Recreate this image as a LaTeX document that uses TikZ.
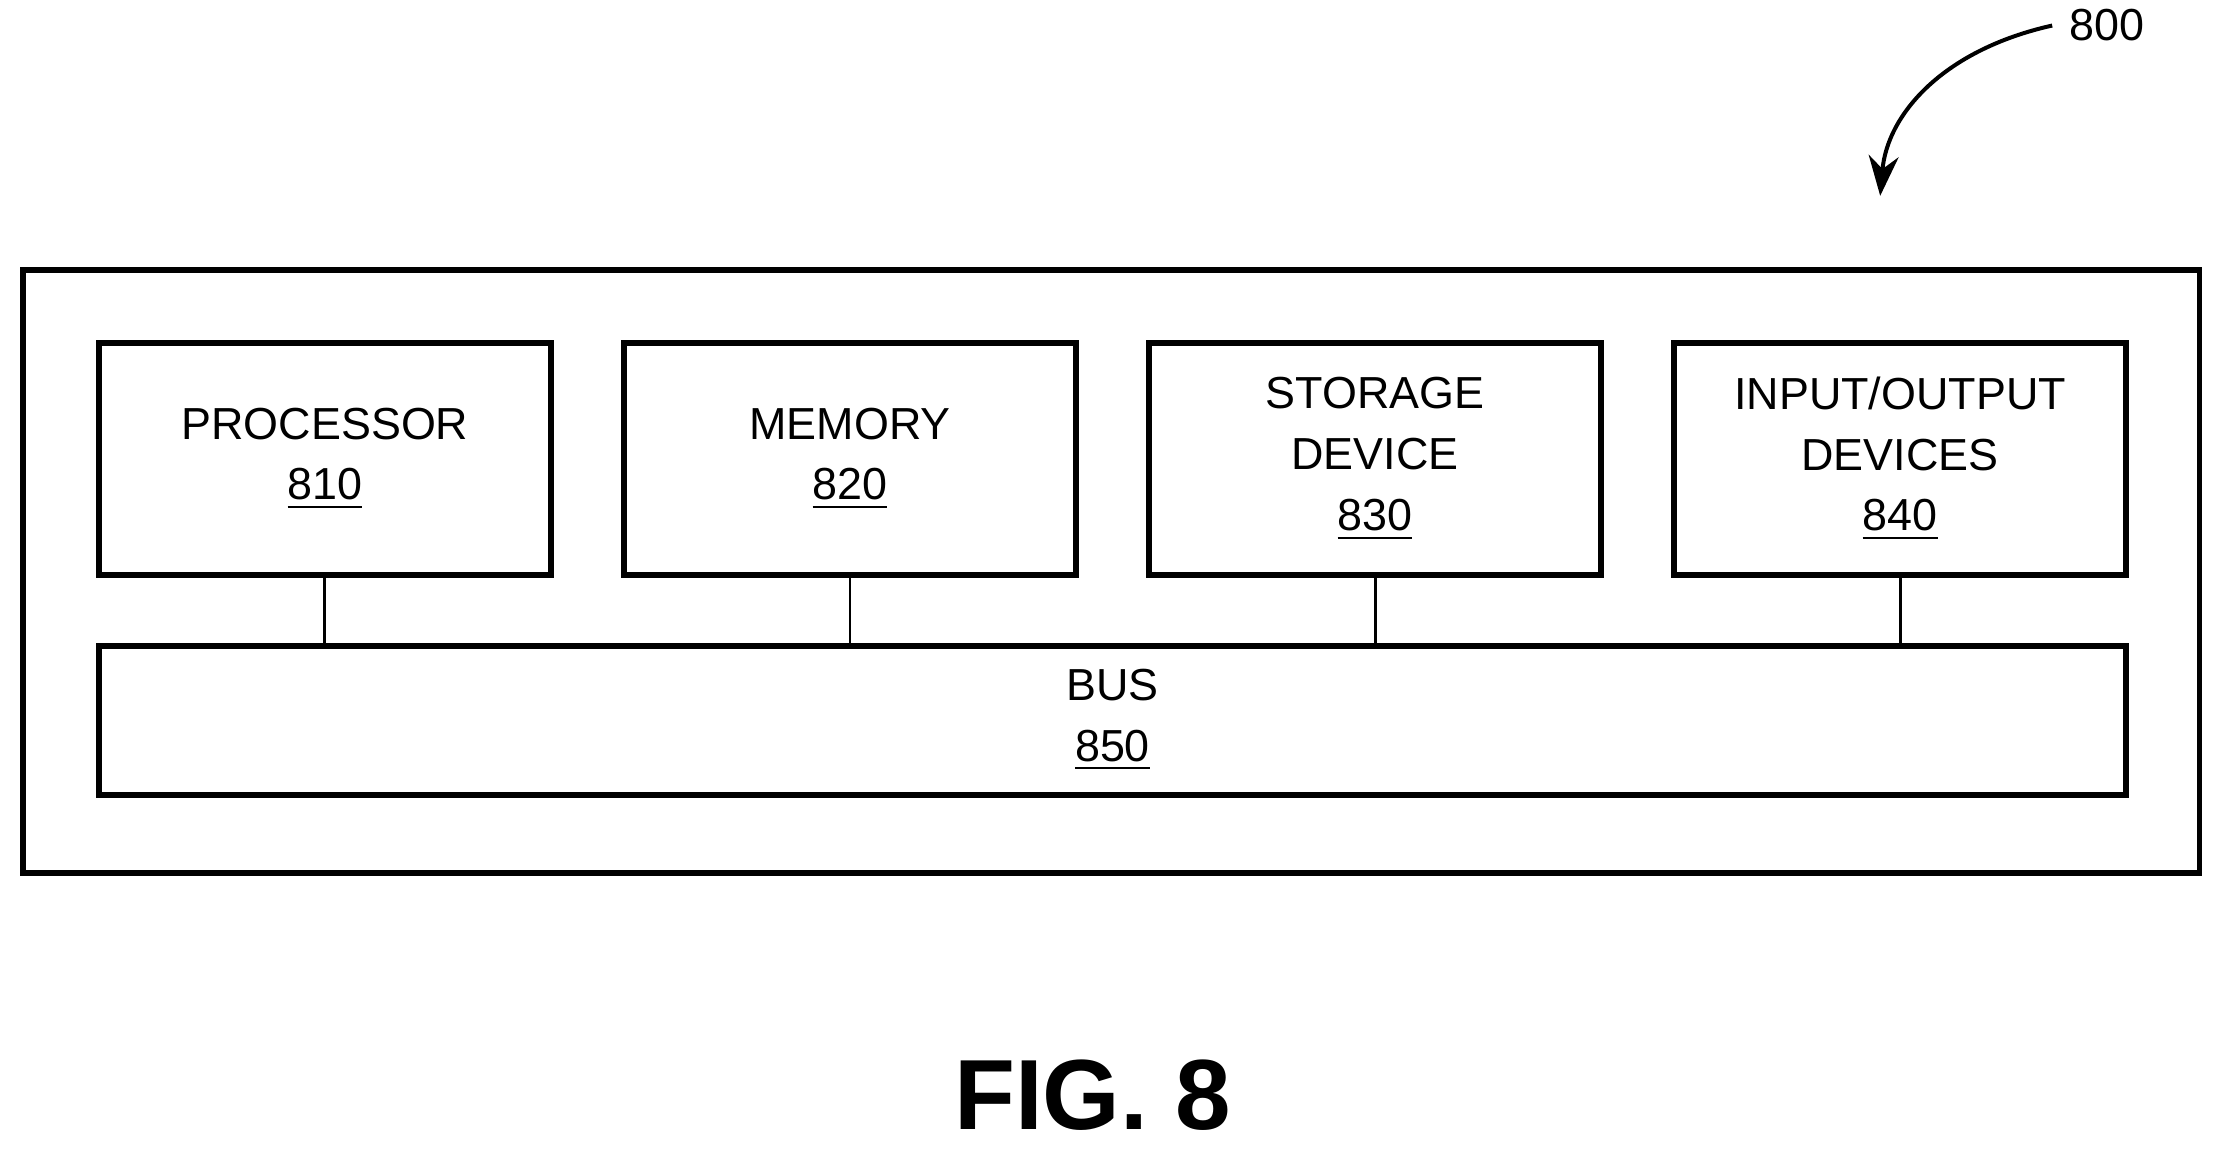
\documentclass[tikz,border=0pt]{standalone}
\usepackage{fontspec}
\setmainfont{Liberation Sans}
\usetikzlibrary{arrows.meta}
\begin{document}
\begin{tikzpicture} [unit/.style={draw, line width=1.2pt, minimum width=3.18cm, minimum height=1.63cm, align=center, font=\fontsize{9}{12.2}\selectfont},
	link/.style={line width=0.6pt}]
	\useasboundingbox (0,0) rectangle (15.68,8.1);
	\node [draw, line width=1.2pt, minimum width=15.34cm, minimum height=4.25cm] (sys) at (7.83,4.075) {};
	\node [unit] (proc) at (2.29,4.865) {PROCESSOR\\\underline{810}};
	\node [unit] (mem) at (5.99,4.865) {MEMORY\\\underline{820}};
	\node [unit] (stor) at (9.69,4.865) {STORAGE\\DEVICE\\\underline{830}};
	\node [unit] (io) at (13.39,4.865) {INPUT/OUTPUT\\DEVICES\\\underline{840}};
	\node [unit, minimum width=14.28cm, minimum height=1.05cm] (bus) at (7.84,3.025) {BUS\\\underline{850}};
	\foreach \n in {proc, mem, stor, io}
		\draw [link] (\n.south) -- (\n.south |- bus.north);
	\node [font=\fontsize{9}{11}\selectfont] (ref) at (14.85,7.92) {800};
	\coordinate (tip) at (13.25,6.72);
	\draw [line width=0.8pt, -{Stealth[length=8pt,width=6pt]}] (ref.west) .. controls (13.7,7.75) and (13.3,7.3) .. (tip);
	\node [font=\fontsize{20}{24}\bfseries] (fig) at (7.7,0.38) {FIG. 8};
\end{tikzpicture}
\end{document}
